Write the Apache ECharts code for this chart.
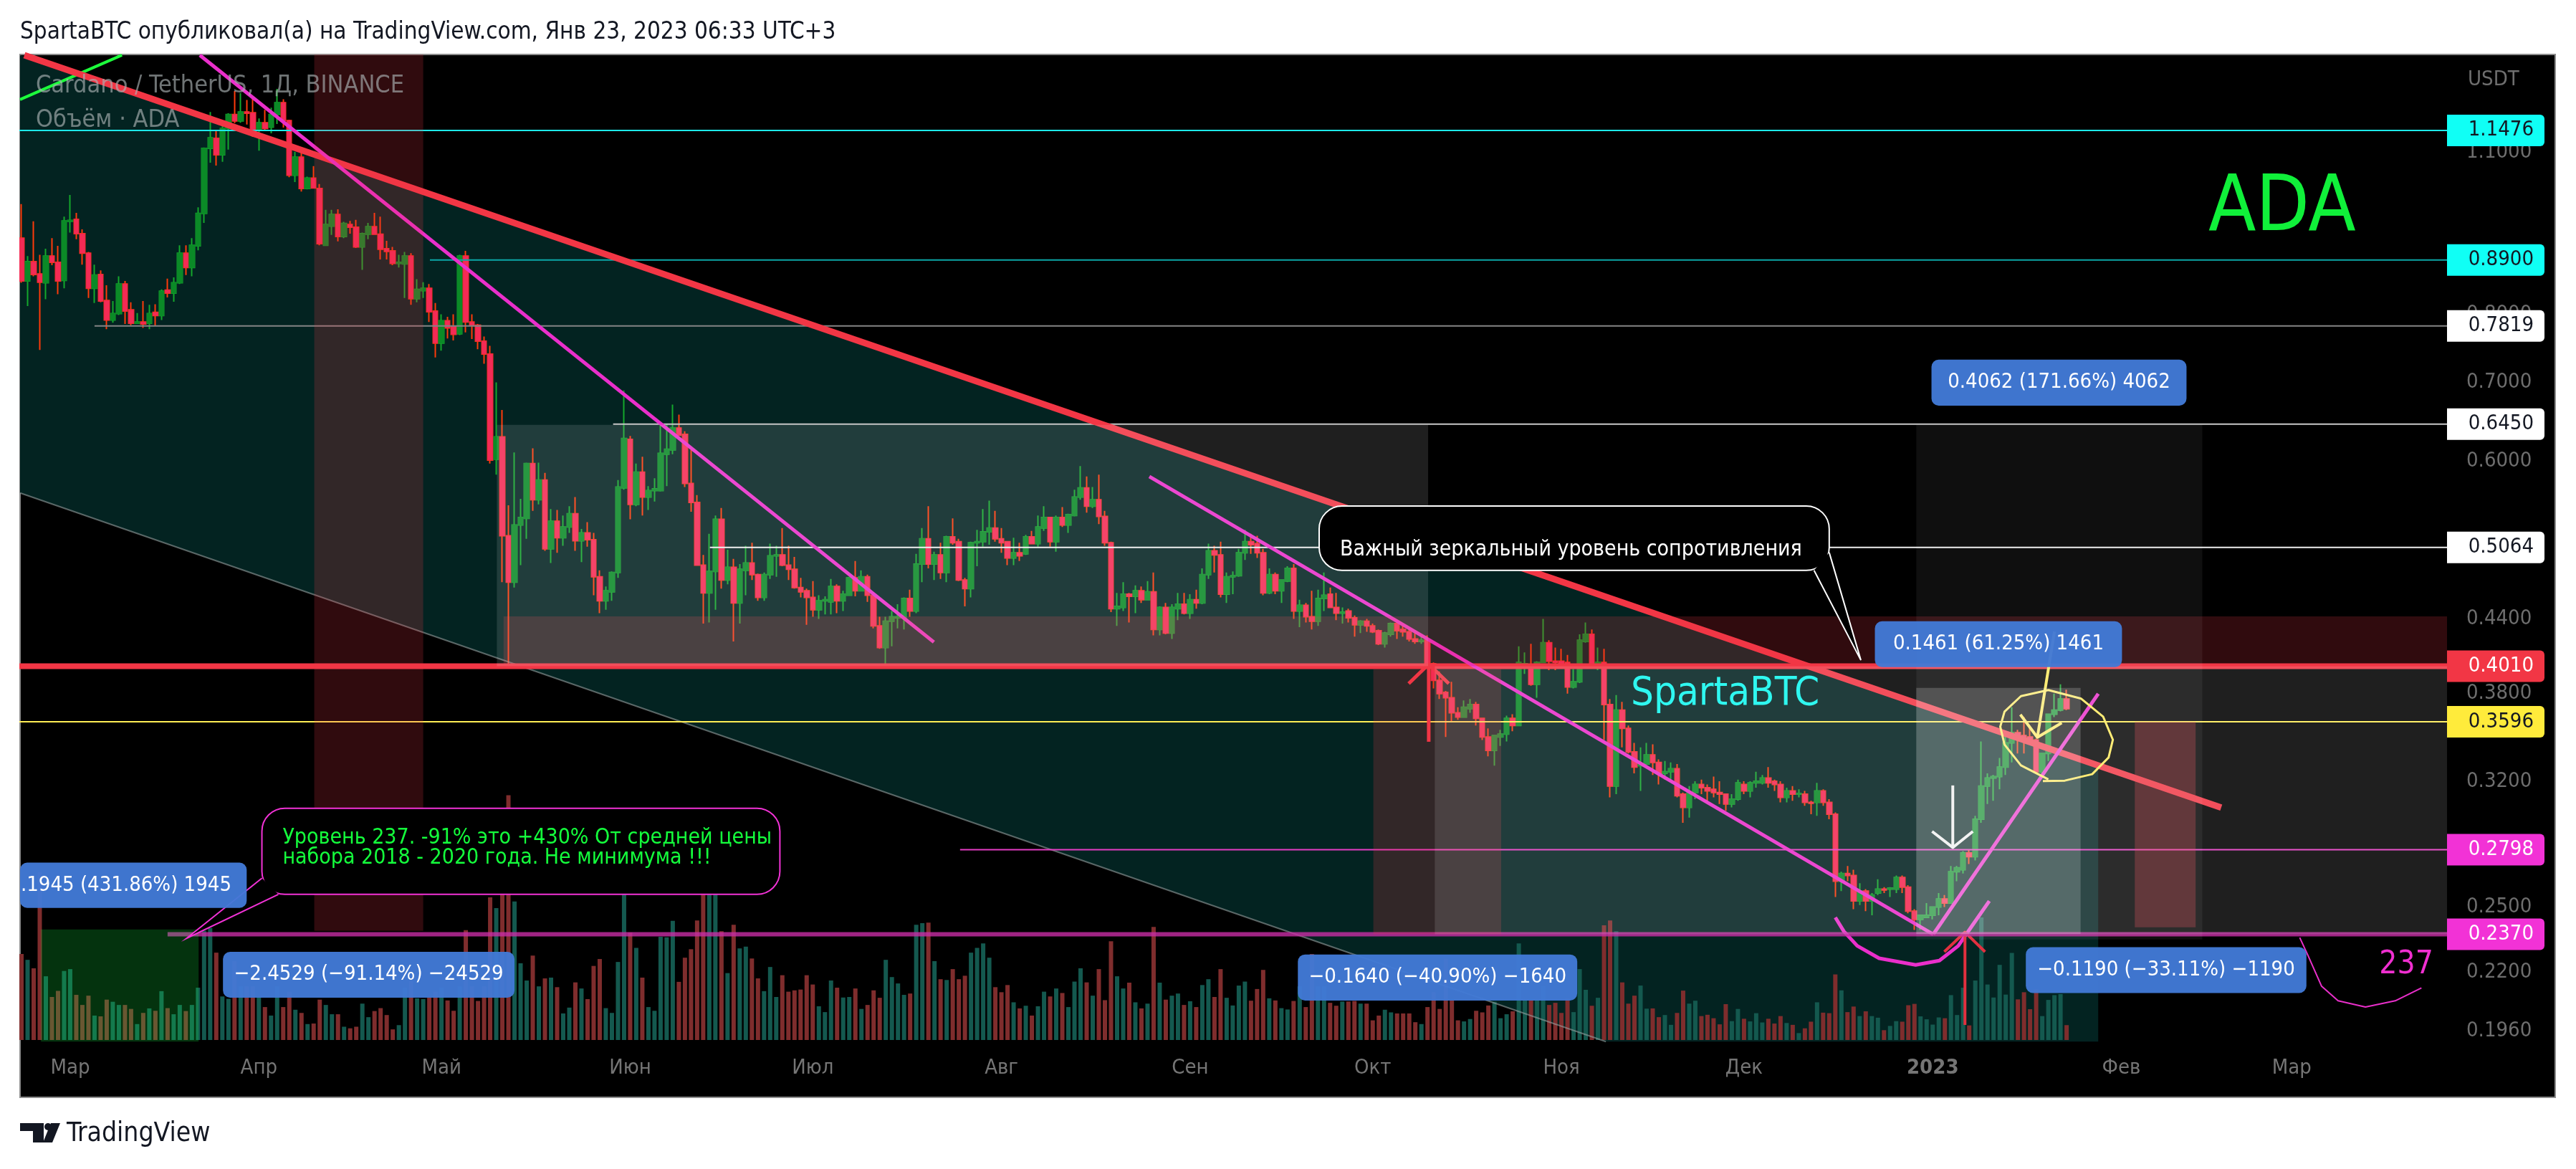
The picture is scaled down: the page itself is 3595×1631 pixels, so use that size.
<!DOCTYPE html>
<html>
<head>
<meta charset="utf-8">
<title>ADA</title>
<style>html,body{margin:0;padding:0;background:#fff}#main{width:3595px;height:1631px}</style>
<script src="https://cdn.jsdelivr.net/npm/echarts@6/dist/echarts.min.js"></script>
</head>
<body>
<div id="main"></div>
<script>
// daily candles from 2022-02-21: open, close, low, high
var candles = [
[.929,.854,.851,.993],[.854,.887,.813,.897],[.887,.865,.862,.960],[.866,.852,.746,.899],[.851,.897,.824,.910],[.897,.886,.881,.929],[.886,.854,.832,.915],[.855,.961,.842,.969],[.960,.962,.939,1.011],[.964,.937,.927,.976],
[.937,.902,.882,.945],[.902,.842,.826,.904],[.842,.864,.818,.882],[.865,.821,.819,.872],[.822,.791,.777,.847],[.791,.801,.787,.821],[.801,.849,.799,.862],[.849,.805,.785,.854],[.807,.786,.783,.819],[.786,.788,.786,.802],
[.788,.785,.779,.821],[.786,.801,.777,.815],[.803,.798,.782,.816],[.798,.837,.791,.840],[.839,.834,.827,.858],[.834,.851,.820,.860],[.851,.902,.849,.916],[.902,.877,.864,.916],[.877,.916,.862,.929],[.915,.975,.907,.987],
[.975,1.108,.957,1.110],[1.108,1.131,1.077,1.190],[1.130,1.094,1.071,1.146],[1.094,1.152,1.079,1.167],[1.152,1.184,1.105,1.187],[1.184,1.169,1.164,1.240],[1.169,1.190,1.165,1.235],[1.190,1.187,1.161,1.218],[1.188,1.148,1.133,1.221],[1.148,1.165,1.103,1.175],
[1.165,1.152,1.147,1.195],[1.155,1.184,1.141,1.200],[1.184,1.212,1.162,1.245],[1.212,1.170,1.154,1.220],[1.170,1.051,1.047,1.172],[1.051,1.089,1.037,1.100],[1.089,1.024,1.018,1.098],[1.024,1.045,1.022,1.048],[1.045,1.025,1.024,1.070],[1.024,.919,.916,1.033],
[.916,.954,.915,.982],[.951,.973,.935,.982],[.973,.932,.923,.983],[.932,.956,.929,.959],[.954,.949,.937,.961],[.949,.913,.911,.963],[.913,.937,.873,.939],[.936,.950,.927,.957],[.950,.936,.935,.976],[.936,.909,.891,.969],
[.910,.905,.891,.924],[.906,.884,.881,.913],[.884,.886,.877,.899],[.883,.897,.826,.904],[.897,.825,.815,.902],[.825,.840,.819,.857],[.838,.842,.826,.852],[.842,.804,.788,.849],[.805,.756,.735,.818],[.756,.790,.745,.800],
[.790,.779,.763,.796],[.781,.769,.760,.800],[.770,.897,.768,.899],[.897,.788,.772,.906],[.788,.783,.762,.800],[.783,.759,.747,.785],[.759,.740,.726,.766],[.740,.601,.597,.752],[.602,.629,.584,.700],[.629,.518,.473,.663],
[.518,.473,.403,.550],[.473,.529,.468,.610],[.529,.537,.489,.557],[.536,.597,.515,.598],[.597,.556,.544,.615],[.556,.578,.551,.598],[.578,.505,.503,.586],[.505,.533,.491,.546],[.533,.516,.501,.545],[.516,.527,.508,.539],
[.527,.541,.521,.549],[.541,.513,.503,.559],[.513,.521,.492,.525],[.521,.514,.507,.532],[.514,.478,.461,.521],[.478,.456,.445,.484],[.456,.465,.448,.469],[.464,.482,.456,.483],[.482,.570,.477,.578],[.569,.627,.567,.689],
[.626,.551,.535,.630],[.551,.587,.549,.597],[.587,.559,.539,.605],[.559,.566,.545,.571],[.566,.568,.554,.580],[.566,.609,.565,.644],[.608,.614,.571,.645],[.613,.640,.608,.670],[.640,.631,.631,.657],[.632,.574,.570,.636],
[.574,.553,.543,.613],[.553,.489,.489,.561],[.489,.463,.436,.499],[.463,.483,.437,.520],[.483,.535,.448,.539],[.535,.475,.467,.547],[.475,.487,.471,.504],[.487,.454,.421,.495],[.454,.485,.436,.490],[.484,.491,.461,.508],
[.491,.480,.475,.511],[.480,.459,.456,.481],[.459,.480,.456,.482],[.480,.498,.476,.510],[.498,.499,.478,.508],[.499,.489,.488,.526],[.489,.485,.475,.508],[.485,.468,.467,.497],[.468,.464,.459,.477],[.465,.459,.435,.467],
[.459,.448,.442,.474],[.448,.456,.440,.461],[.456,.457,.444,.460],[.455,.469,.444,.476],[.469,.456,.445,.471],[.456,.462,.447,.465],[.461,.477,.461,.478],[.477,.465,.460,.493],[.465,.478,.465,.484],[.478,.461,.455,.480],
[.461,.434,.432,.463],[.434,.416,.415,.442],[.416,.438,.403,.442],[.438,.442,.417,.447],[.441,.442,.432,.453],[.441,.458,.431,.459],[.458,.447,.442,.466],[.447,.490,.445,.500],[.490,.515,.473,.526],[.515,.490,.486,.549],
[.490,.499,.475,.502],[.499,.482,.476,.511],[.482,.517,.473,.518],[.517,.511,.509,.536],[.512,.475,.474,.515],[.475,.467,.451,.477],[.467,.511,.459,.512],[.511,.512,.488,.524],[.512,.522,.507,.546],[.522,.526,.509,.555],
[.526,.515,.512,.544],[.515,.511,.501,.526],[.512,.496,.489,.512],[.496,.501,.489,.516],[.501,.498,.493,.511],[.500,.517,.499,.519],[.517,.510,.510,.523],[.510,.527,.507,.539],[.526,.537,.523,.549],[.537,.512,.507,.537],
[.512,.537,.502,.539],[.537,.529,.527,.548],[.529,.540,.521,.541],[.539,.559,.538,.567],[.559,.569,.556,.594],[.569,.549,.542,.582],[.549,.556,.547,.570],[.556,.538,.530,.584],[.538,.511,.508,.544],[.511,.449,.446,.512],
[.449,.451,.434,.463],[.450,.462,.447,.473],[.462,.460,.437,.463],[.460,.465,.445,.470],[.465,.457,.454,.469],[.457,.464,.457,.474],[.464,.431,.426,.482],[.431,.450,.426,.451],[.450,.428,.427,.454],[.428,.450,.423,.453],
[.449,.453,.439,.463],[.453,.445,.444,.463],[.445,.457,.440,.462],[.457,.454,.449,.466],[.454,.480,.453,.486],[.480,.503,.476,.510],[.503,.499,.482,.508],[.499,.462,.459,.512],[.462,.478,.454,.482],[.478,.479,.462,.483],
[.479,.501,.478,.505],[.501,.512,.494,.524],[.512,.509,.500,.520],[.510,.501,.496,.518],[.501,.463,.461,.505],[.463,.480,.462,.486],[.480,.465,.462,.482],[.465,.475,.454,.475],[.474,.486,.473,.488],[.486,.447,.440,.490],
[.447,.452,.433,.457],[.452,.442,.437,.454],[.442,.438,.431,.465],[.438,.458,.434,.466],[.458,.461,.447,.482],[.462,.450,.450,.468],[.450,.445,.439,.463],[.445,.446,.436,.450],[.447,.441,.437,.449],[.441,.435,.425,.443],
[.435,.438,.428,.439],[.438,.434,.429,.440],[.434,.429,.428,.436],[.430,.419,.418,.431],[.419,.428,.416,.429],[.427,.436,.425,.437],[.436,.430,.423,.437],[.431,.429,.425,.436],[.429,.423,.421,.431],[.423,.421,.419,.428],
[.421,.422,.419,.425],[.422,.403,.401,.426],[.403,.390,.384,.404],[.390,.380,.376,.397],[.381,.377,.349,.382],[.377,.366,.360,.389],[.366,.363,.361,.370],[.363,.370,.363,.375],[.369,.372,.366,.376],[.372,.362,.357,.374],
[.362,.349,.347,.362],[.349,.340,.336,.355],[.340,.350,.330,.350],[.349,.351,.343,.354],[.351,.362,.346,.364],[.362,.357,.353,.365],[.357,.404,.357,.417],[.401,.403,.395,.412],[.402,.387,.386,.419],[.387,.404,.377,.405],
[.404,.420,.404,.440],[.420,.405,.398,.422],[.405,.404,.398,.416],[.405,.403,.403,.415],[.404,.385,.380,.410],[.385,.389,.384,.399],[.389,.422,.388,.427],[.421,.427,.420,.437],[.427,.403,.402,.431],[.402,.404,.398,.416],
[.404,.372,.347,.415],[.372,.317,.310,.376],[.317,.368,.312,.379],[.368,.355,.342,.374],[.355,.339,.338,.357],[.339,.329,.325,.345],[.330,.331,.314,.342],[.331,.337,.331,.345],[.337,.332,.324,.344],[.332,.325,.318,.334],
[.325,.326,.321,.333],[.326,.328,.321,.332],[.328,.311,.310,.331],[.312,.304,.295,.313],[.304,.313,.298,.317],[.313,.318,.309,.320],[.318,.316,.312,.321],[.316,.314,.308,.318],[.315,.313,.310,.323],[.313,.312,.306,.320],
[.312,.306,.302,.312],[.306,.309,.304,.312],[.309,.319,.308,.321],[.318,.314,.312,.320],[.314,.319,.310,.320],[.319,.320,.316,.326],[.319,.322,.318,.324],[.322,.319,.316,.329],[.320,.318,.314,.321],[.318,.310,.307,.320],
[.310,.314,.307,.316],[.314,.312,.308,.317],[.312,.3125,.310,.315],[.312,.307,.305,.314],[.307,.3065,.300,.308],[.307,.314,.299,.319],[.314,.307,.305,.315],[.307,.300,.297,.309],[.300,.263,.255,.301],[.263,.267,.258,.268],
[.267,.266,.263,.271],[.266,.253,.249,.269],[.253,.258,.251,.262],[.258,.253,.248,.259],[.253,.256,.246,.257],[.257,.259,.256,.264],[.259,.2585,.257,.260],[.259,.2595,.255,.260],[.259,.265,.257,.266],[.265,.260,.257,.266],
[.260,.248,.247,.261],[.248,.244,.239,.249],[.244,.246,.239,.246],[.245,.246,.245,.252],[.246,.250,.244,.250],[.250,.254,.246,.257],[.254,.252,.250,.256],[.252,.268,.252,.271],[.268,.270,.263,.271],[.269,.278,.267,.279],
[.278,.276,.272,.280],[.276,.297,.274,.299],[.297,.317,.295,.346],[.317,.322,.306,.325],[.322,.323,.308,.324],[.323,.329,.315,.335],[.329,.345,.324,.350],[.345,.352,.332,.370],[.352,.350,.338,.354],[.350,.349,.338,.363],
[.349,.347,.345,.357],[.347,.326,.325,.348],[.326,.338,.324,.338],[.338,.365,.333,.365],[.365,.368,.363,.380],[.368,.376,.367,.387],[.376,.369,.368,.383]
];
var volumes = [
324,302,270,632,240,162,185,260,267,170,132,167,92,89,152,144,132,132,117,60,102,119,110,184,120,97,132,109,132,197,
412,422,329,164,155,297,202,202,202,162,124,92,202,124,182,114,102,60,62,152,132,97,97,50,44,50,137,86,109,120,
94,40,56,197,222,157,154,160,182,197,149,110,202,414,202,147,202,537,497,552,922,522,289,224,318,202,232,235,199,100,
122,217,194,154,279,305,120,102,294,682,405,347,235,124,110,389,387,449,219,310,342,450,632,682,632,410,252,434,345,352,
307,232,184,275,162,244,182,187,190,244,209,127,105,224,197,160,162,194,117,132,187,159,302,237,213,170,175,434,440,442,
297,229,226,267,229,242,329,347,364,310,199,180,207,142,119,129,92,127,182,164,194,177,124,220,270,217,167,267,150,372,
240,194,216,142,119,137,426,216,152,167,175,132,146,124,207,229,162,267,159,130,205,220,148,192,264,157,149,120,115,147,
202,124,324,202,202,140,129,145,145,147,137,137,74,92,114,104,100,100,100,67,60,124,180,117,307,150,74,70,79,110,
104,130,144,82,97,108,364,152,152,152,202,132,140,102,157,105,267,189,129,159,432,450,410,217,137,167,205,118,119,86,
94,57,102,186,137,148,90,95,82,59,135,71,117,80,70,101,66,80,62,90,64,57,26,44,69,142,103,101,247,187,
105,126,90,108,90,84,37,53,71,69,131,136,89,78,58,85,82,169,94,197,55,224,462,209,160,283,171,328,153,180,
116,192,90,151,169,173,56
];
var monthStarts = ['2022-03-01','2022-04-01','2022-05-01','2022-06-01','2022-07-01','2022-08-01','2022-09-01','2022-10-01','2022-11-01','2022-12-01','2023-01-01','2023-02-01','2023-03-01'];
var monthNames = ['Мар','Апр','Май','Июн','Июл','Авг','Сен','Окт','Ноя','Дек','2023','Фев','Мар'];
var priceTicks = [1.1,0.8,0.7,0.6,0.44,0.38,0.32,0.25,0.22,0.196];

// drawings, in chart terms: day number (0 = 2022-02-21) and price
var channelArea = [[-.24,1.33],[341.2,.3301],[341.2,.192],[260.3,.192],[-.24,.5634]];
var redTrend = [[.47,1.33],[361.4,.3039]];
var greenTrend = [[-.24,1.2192],[16.5,1.3305]];
var greyTrend = [[-.24,.5634],[260.3,.192]];
var pinkTrends = [[[29.3,1.33],[149.9,.4205]],[[185.3,.5819],[314.1,.237]],[[314.1,.237],[341.2,.38]]];
var pinkArc = [[298,.245],[299.4,.2384],[301.6,.2317],[305.2,.2261],[311.2,.2232],[315.1,.2251],[318.2,.2317],[320.4,.2407],[323.3,.253]];
var thinCurve = [[374.3,.2355],[375.7,.2271],[377.9,.214],[380.6,.208],[385.1,.2055],[390,.208],[394.3,.2133]];
var redArrows = [[[231.2,.3458],[231.2,.4026]],[[227.9,.3876],[231.2,.4026],[234.5,.3876]]];
var redArrow2 = [[[319.3,.1984],[319.3,.238]],[[315.9,.229],[319.3,.238],[322.6,.229]]];
var whiteArrow = [[[317.3,.3174],[317.3,.281]],[[313.9,.29],[317.3,.281],[320.6,.29]]];
var yellowArrow = [[[334,.4293],[331.2,.3488]],[[328.4,.3647],[331.2,.3488],[335.2,.3589]]];
var yellowLoop = [[332.1,.3201],[335.7,.3204],[340.2,.3245],[342.9,.3353],[343.6,.3472],[342,.3633],[338.4,.3763],[333,.3827],[328.5,.3782],[325.8,.3669],[325.1,.3562],[325.8,.3439],[328.5,.3301],[333,.3212]];

// zones: day from, day to, price top, price bottom
var redZones = [[48.1,66,1.332,.2386],[79.2,398.5,.4423,.401],[222.1,243.1,.3987,.237]];
var strongRedZones = [[347.2,357.2,.3596,.2403]];
var whiteZones = [[78.1,231.1,.6439,.401],[232.2,398.5,.401,.237]];
var faintZones = [[311.3,358.3,.644,.2346]];
var brightZones = [[311.3,338.3,.3843,.2372]];
var greenZones = [[3.2,29.1,.2393,.192]];

// horizontal levels: price, first day
var levelCyan = [[1.1476,-.5]];
var levelTeal = [[.89,67.1]];
var levelGrey = [[.7819,12]];
var levelSilver = [[.645,97.2]];
var levelWhite = [[.5064,113.1]];
var levelRed = [[.401,-.5]];
var levelYellow = [[.3596,-.5]];
var levelPink = [[.2798,154.2]];
var levelMagenta = [[.237,24]];

var priceTags = ['1.1476','0.8900','0.7819','0.6450','0.5064','0.4010','0.3596','0.2798','0.2370'];
var tagFills = ['#10fff5','#10fff5','#ffffff','#ffffff','#ffffff','#f23645','#ffeb3b','#f232d6','#f232d6'];
var tagInks = ['#131722','#131722','#131722','#131722','#131722','#ffffff','#131722','#ffffff','#ffffff'];

// measure labels: text, day from, day to, price top, price bottom
var measureTexts = ['0.4062 (171.66%) 4062','0.1461 (61.25%) 1461','.1945 (431.86%) 1945','−2.4529 (−91.14%) −24529','−0.1640 (−40.90%) −1640','−0.1190 (−33.11%) −1190'];
var measureBoxes = [[313.8,355.7,.7318,.6687],[304.5,345.1,.438,.4003],[-.24,37,.2728,.2496],[33.1,81,.229,.2093],[209.7,255.6,.2278,.2081],[329.3,375.4,.2311,.2112]];

var FONT = '"DejaVu Sans Condensed", "DejaVu Sans", sans-serif';
var LAST_DAY = 398.5;

var days = [];
for (var i = 0; i < 399; i++) {
  var d = new Date(Date.UTC(2022, 1, 21 + i));
  days.push(d.toISOString().slice(0, 10));
}

function zoneSeries(rows, color, z) {
  return {
    type: 'custom', xAxisIndex: 1, yAxisIndex: 0, z: z, silent: true,
    data: rows.map(function (r) { return [r[0], r[2]]; }),
    renderItem: function (params, api) {
      var r = rows[params.dataIndex];
      var a = api.coord([r[0], r[2]]), b = api.coord([r[1], r[3]]);
      return { type: 'rect', shape: { x: a[0], y: a[1], width: b[0] - a[0], height: b[1] - a[1] }, style: { fill: color } };
    }
  };
}

function lineSeries(paths, color, width, z) {
  return {
    type: 'custom', xAxisIndex: 1, yAxisIndex: 0, z: z, silent: true,
    data: paths.map(function (p) { return p[0]; }),
    renderItem: function (params, api) {
      var pts = paths[params.dataIndex].map(function (p) { return api.coord(p); });
      return { type: 'polyline', shape: { points: pts }, style: { stroke: color, fill: null, lineWidth: width, lineJoin: 'round' } };
    }
  };
}

function levelSeries(rows, color, width, z) {
  return lineSeries(rows.map(function (r) { return [[r[1], r[0]], [LAST_DAY, r[0]]]; }), color, width, z);
}

function textSeries(rows, font, color, align, z) {
  // rows: text, day, price
  return {
    type: 'custom', xAxisIndex: 1, yAxisIndex: 0, z: z, silent: true,
    data: rows.map(function (r) { return [r[1], r[2]]; }),
    renderItem: function (params, api) {
      var r = rows[params.dataIndex];
      var c = api.coord([r[1], r[2]]);
      return { type: 'text', style: { text: r[0], x: c[0], y: c[1], font: font, fill: color, align: align, verticalAlign: 'middle' } };
    }
  };
}

function calloutSeries(box, tail, border, z) {
  // box: day from, day to, price top, price bottom; tail: base, tip, base
  return {
    type: 'custom', xAxisIndex: 1, yAxisIndex: 0, z: z, silent: true,
    data: [[box[0], box[2]]],
    renderItem: function (params, api) {
      var a = api.coord([box[0], box[2]]), b = api.coord([box[1], box[3]]);
      var pts = tail.map(function (p) { return api.coord(p); });
      return {
        type: 'group',
        children: [
          { type: 'rect', shape: { x: a[0], y: a[1], width: b[0] - a[0], height: b[1] - a[1], r: 32 }, style: { fill: '#000', stroke: border, lineWidth: 2 } },
          { type: 'polygon', shape: { points: pts }, style: { fill: '#000' } },
          { type: 'polyline', shape: { points: pts }, style: { stroke: border, fill: null, lineWidth: 2 } }
        ]
      };
    }
  };
}

var series = [
  {
    type: 'custom', xAxisIndex: 1, yAxisIndex: 0, z: 1, silent: true,
    data: [channelArea[0]],
    renderItem: function (params, api) {
      return { type: 'polygon', shape: { points: channelArea.map(function (p) { return api.coord(p); }) }, style: { fill: '#032321' } };
    }
  },
  {
    type: 'bar', xAxisIndex: 2, yAxisIndex: 1, z: 2, barWidth: 6, silent: true,
    data: volumes,
    itemStyle: {
      color: function (p) { var c = candles[p.dataIndex]; return c[1] >= c[0] ? '#14594f' : '#7f2d2d'; }
    }
  },
  {
    // wicks
    type: 'candlestick', xAxisIndex: 0, yAxisIndex: 0, z: 3, barWidth: 7, silent: true,
    data: candles,
    itemStyle: { color: '#0b8a27', color0: '#f42b54', borderColor: '#14a82c', borderColor0: '#ff3a0a', borderWidth: 2 }
  },
  {
    // bodies on top, without wicks
    type: 'candlestick', xAxisIndex: 0, yAxisIndex: 0, z: 3, barWidth: 7, silent: true,
    data: candles.map(function (c) { return [c[0], c[1], Math.min(c[0], c[1]), Math.max(c[0], c[1])]; }),
    itemStyle: { color: '#0b8a27', color0: '#f42b54', borderColor: '#0b8a27', borderColor0: '#ee2450', borderWidth: 1 }
  },
  lineSeries([greyTrend], 'rgba(150,160,160,.6)', 2, 4),
  lineSeries([greenTrend], '#1dff3c', 4, 4),
  levelSeries(levelCyan, '#1de9e9', 2, 4),
  levelSeries(levelTeal, '#0ca8a8', 2, 4),
  levelSeries(levelGrey, '#858585', 2, 4),
  levelSeries(levelSilver, '#c8c8c8', 2, 4),
  levelSeries(levelWhite, '#eeeeee', 2, 4),
  levelSeries(levelYellow, '#ffee55', 2, 4),
  levelSeries(levelPink, '#e63cc4', 2, 4),
  levelSeries(levelRed, '#f23645', 8, 4),
  lineSeries([redTrend], '#f23645', 9, 4),
  lineSeries(pinkTrends, '#ea2fcb', 5, 4),
  lineSeries([pinkArc], '#ea2fcb', 5, 4),
  lineSeries([thinCurve], '#ea2fcb', 2, 4),
  lineSeries(redArrows, '#f23645', 5, 4),
  lineSeries(redArrow2, '#e2303f', 4, 4),
  lineSeries(whiteArrow, '#f0f0f0', 4, 4),
  lineSeries(yellowArrow, '#ffe95a', 4, 4),
  lineSeries([yellowLoop], '#ffe95a', 3, 4),
  levelSeries(levelMagenta, 'rgba(200,45,165,.8)', 6, 4),
  zoneSeries(redZones, 'rgba(242,54,69,.2)', 5),
  zoneSeries(strongRedZones, 'rgba(242,54,69,.28)', 5),
  zoneSeries(whiteZones, 'rgba(255,255,255,.12)', 5),
  zoneSeries(faintZones, 'rgba(255,255,255,.06)', 5),
  zoneSeries(brightZones, 'rgba(255,255,255,.19)', 5),
  zoneSeries(greenZones, 'rgba(20,255,70,.2)', 5),
  calloutSeries([213.2, 297, .5492, .484], [[294.5, .484], [302.2, .4058], [297, .5013]], '#ffffff', 6),
  calloutSeries([39.5, 124.6, .3035, .2563], [[39.5, .2646], [27.1, .2351], [42.2, .2563]], '#f232d6', 6),
  {
    type: 'custom', xAxisIndex: 1, yAxisIndex: 0, z: 6, silent: true,
    data: measureBoxes.map(function (b) { return [b[0], b[2]]; }),
    renderItem: function (params, api) {
      var b = measureBoxes[params.dataIndex];
      var p = api.coord([b[0], b[2]]), q = api.coord([b[1], b[3]]);
      var clipped = measureTexts[params.dataIndex].charAt(0) === '.';
      return {
        type: 'group',
        children: [
          { type: 'rect', shape: { x: p[0], y: p[1], width: q[0] - p[0], height: q[1] - p[1], r: 10 }, style: { fill: 'rgba(66,122,214,.96)' } },
          { type: 'text', style: { text: measureTexts[params.dataIndex], x: clipped ? p[0] + 1 : (p[0] + q[0]) / 2, y: (p[1] + q[1]) / 2, font: '29px ' + FONT, fill: '#fff', align: clipped ? 'left' : 'center', verticalAlign: 'middle' } }
        ]
      };
    }
  },
  textSeries([['Важный зеркальный уровень сопротивления', 216.6, .5038]], '30px ' + FONT, '#ffffff', 'left', 7),
  textSeries([['Уровень 237. -91% это +430% От средней цены', 42.9, .2861], ['набора 2018 - 2020 года. Не минимума !!!', 42.9, .2751]], '30px ' + FONT, '#14ff3c', 'left', 7),
  textSeries([['ADA', 371.4, .9818]], '108px ' + FONT, '#10f03a', 'center', 7),
  textSeries([['SpartaBTC', 264.4, .3795]], '56px ' + FONT, '#2ff7f0', 'left', 7),
  textSeries([['237', 391.8, .2231]], '44px ' + FONT, '#f02fd0', 'center', 7),
  {
    type: 'custom', xAxisIndex: 1, yAxisIndex: 0, z: 8, silent: true,
    data: priceTags.map(function (t) { return [LAST_DAY, +t]; }),
    renderItem: function (params, api) {
      var c = api.coord([LAST_DAY, +priceTags[params.dataIndex]]);
      return {
        type: 'group',
        children: [
          { type: 'rect', shape: { x: c[0], y: c[1] - 22, width: 136, height: 44, r: [0, 6, 6, 0] }, style: { fill: tagFills[params.dataIndex] } },
          { type: 'text', style: { text: priceTags[params.dataIndex], x: c[0] + 121, y: c[1], font: '29px ' + FONT, fill: tagInks[params.dataIndex], align: 'right', verticalAlign: 'middle' } }
        ]
      };
    }
  }
];

var chart = echarts.init(document.getElementById('main'), null, { renderer: 'canvas' });
chart.setOption({
  animation: false,
  backgroundColor: '#fff',
  grid: [
    { left: 25.75, right: 180, top: 76, height: 1378, containLabel: false },
    { left: 25.75, right: 180, top: 1001, height: 450, containLabel: false }
  ],
  xAxis: [
    {
      type: 'category', gridIndex: 0, data: days,
      axisLine: { show: false }, axisTick: { show: false }, splitLine: { show: false },
      axisLabel: {
        margin: 22, fontSize: 29, fontFamily: FONT, color: '#757575',
        interval: function (idx, val) { return monthStarts.indexOf(val) >= 0; },
        formatter: function (val) {
          var name = monthNames[monthStarts.indexOf(val)];
          return name === '2023' ? '{b|' + name + '}' : name;
        },
        rich: { b: { fontSize: 29, fontFamily: FONT, fontWeight: 'bold', color: '#757575' } }
      }
    },
    { type: 'value', gridIndex: 0, min: -.5, max: LAST_DAY, show: false },
    { type: 'category', gridIndex: 1, data: days, show: false }
  ],
  yAxis: [
    {
      type: 'log', gridIndex: 0, position: 'right', min: .1918, max: 1.332, logBase: 10,
      axisLine: { show: false }, axisTick: { show: false }, splitLine: { show: false }, minorTick: { show: false }, minorSplitLine: { show: false },
      axisLabel: {
        customValues: priceTicks, margin: 27, fontSize: 29, fontFamily: FONT, color: '#6e6e6e',
        formatter: function (v) { return Number(v).toFixed(4); }
      }
    },
    { type: 'value', gridIndex: 1, min: 0, max: 1215, show: false }
  ],
  series: series,
  graphic: [
    // frame and page furniture
    { type: 'rect', z: -10, shape: { x: 28, y: 76, width: 3538, height: 1455 }, style: { fill: '#000', stroke: '#8c8c8c', lineWidth: 2 } },
    { type: 'rect', z: 100, shape: { x: 0, y: 60, width: 27, height: 1480 }, style: { fill: '#fff' } },
    { type: 'text', z: 100, style: { text: 'SpartaBTC опубликовал(а) на TradingView.com, Янв 23, 2023 06:33 UTC+3', x: 28, y: 45, font: '33px ' + FONT, fill: '#131722', verticalAlign: 'middle' } },
    { type: 'text', z: 100, style: { text: 'Cardano / TetherUS, 1Д, BINANCE', x: 50, y: 120, font: '34px ' + FONT, fill: 'rgba(170,178,180,.65)', verticalAlign: 'middle' } },
    { type: 'text', z: 100, style: { text: 'Объём · ADA', x: 50, y: 168, font: '34px ' + FONT, fill: 'rgba(170,178,180,.65)', verticalAlign: 'middle' } },
    { type: 'text', z: 100, style: { text: 'USDT', x: 3444, y: 111, font: '29px ' + FONT, fill: '#6e6e6e', verticalAlign: 'middle' } },
    { type: 'polygon', z: 100, shape: { points: [[28, 1567], [61, 1567], [61, 1594], [46, 1594], [46, 1578], [28, 1578]] }, style: { fill: '#131722' } },
    { type: 'circle', z: 100, shape: { cx: 67, cy: 1572, r: 5 }, style: { fill: '#131722' } },
    { type: 'polygon', z: 100, shape: { points: [[71, 1567], [84, 1567], [73, 1594], [60, 1594]] }, style: { fill: '#131722' } },
    { type: 'text', z: 100, style: { text: 'TradingView', x: 93, y: 1582, font: '37px ' + FONT, fill: '#131722', verticalAlign: 'middle' } }
  ]
});
</script>
</body>
</html>
